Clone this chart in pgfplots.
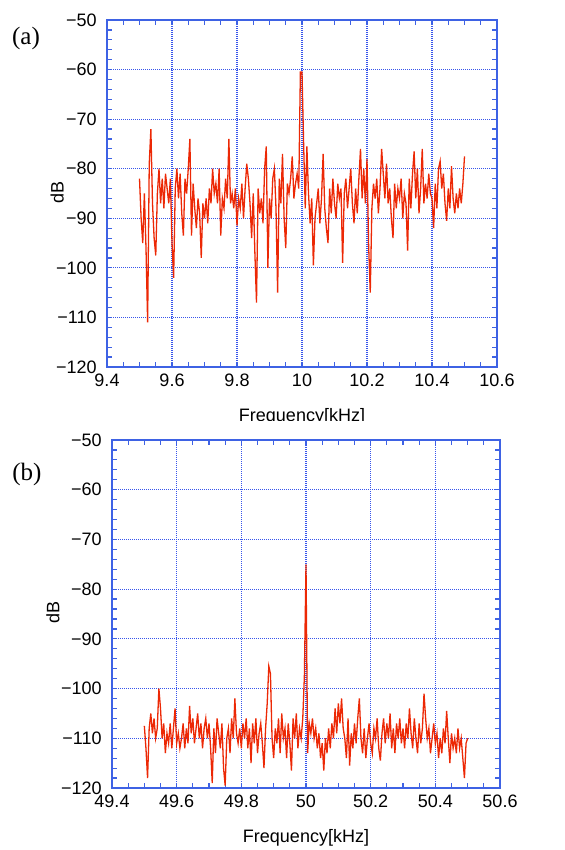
\documentclass[border=0pt]{standalone}
\usepackage{fontspec}
\setmainfont{Liberation Sans}
\newfontfamily\seriffam{Liberation Serif}
\usepackage{pgfplots}
\pgfplotsset{compat=1.18}
\definecolor{axblue}{RGB}{62,98,228}
\definecolor{gridblue}{RGB}{55,85,235}
\definecolor{sigred}{RGB}{236,40,5}
\pgfplotsset{specax/.style={
  scale only axis,
  axis line style={axblue, line width=1pt},
  every tick/.style={axblue, line width=0.6pt},
  major tick length=2.5pt, minor tick length=2.5pt,
  tick align=inside,
  grid=major,
  major grid style={gridblue, line width=0.55pt, dash pattern=on 0.5pt off 0.5pt},
  ymin=-120, ymax=-50,
  ytick={-120,-110,-100,-90,-80,-70,-60,-50},
  yticklabels={−120,−110,−100,−90,−80,−70,−60,−50},
  minor y tick num=4, minor x tick num=3,
  tick label style={font=\fontsize{9}{10}\selectfont, inner sep=0pt},
  yticklabel style={xshift=-5pt},
  xticklabel style={yshift=-3.5pt},
  label style={font=\fontsize{9}{10}\selectfont},
  ylabel={dB},
  xlabel={Frequency[kHz]},
}}
\begin{document}
\begin{tikzpicture}
\useasboundingbox (0,0) rectangle (282.5pt,425pt);
\begin{scope}
\clip (0,214.5pt) rectangle (282.5pt,425pt);
\begin{axis}[specax,
  at={(53.5pt,241.5pt)}, anchor=south west,
  width=195pt, height=173.5pt,
  xmin=9.4, xmax=10.6,
  xtick={9.4,9.6,9.8,10,10.2,10.4,10.6},
  xticklabels={9.4,9.6,9.8,10,10.2,10.4,10.6},
  ylabel style={at={(axis description cs:-0.128,0.504)}, anchor=center, rotate=0},
  xlabel style={at={(axis description cs:0.5,-0.145)}, anchor=center},
]
\addplot[sigred, line width=0.65pt, mark=none] coordinates {
(9.500,-82)(9.505,-90)(9.510,-95)(9.515,-85)(9.520,-96)(9.525,-111)(9.530,-79)(9.535,-72)(9.540,-87)(9.545,-94)
(9.550,-97.5)(9.555,-85)(9.560,-80)(9.565,-87)(9.570,-82)(9.575,-88)(9.580,-81)(9.585,-84)(9.590,-87)(9.595,-82)
(9.600,-95)(9.605,-102)(9.610,-84)(9.615,-80)(9.620,-86)(9.625,-81)(9.630,-89)(9.635,-93.5)(9.640,-82)(9.645,-85)
(9.650,-80)(9.655,-74)(9.660,-93.5)(9.665,-83)(9.670,-88)(9.675,-92)(9.680,-86)(9.685,-89)(9.690,-98)(9.695,-87)
(9.700,-90)(9.705,-86)(9.710,-91)(9.715,-84)(9.720,-87)(9.725,-80)(9.730,-85)(9.735,-83)(9.740,-87)(9.745,-80)
(9.750,-93.5)(9.755,-86)(9.760,-88)(9.765,-82)(9.770,-86)(9.775,-74)(9.780,-87)(9.785,-85)(9.790,-88)(9.795,-84)
(9.800,-91.5)(9.805,-86)(9.810,-88)(9.815,-83)(9.820,-90)(9.825,-84)(9.830,-79)(9.835,-82)(9.840,-87)(9.845,-94)
(9.850,-85)(9.855,-97)(9.860,-107)(9.865,-84)(9.870,-89)(9.875,-86)(9.880,-91)(9.885,-80)(9.890,-75.5)(9.895,-100)
(9.900,-86)(9.905,-90)(9.910,-82)(9.915,-80)(9.920,-88)(9.925,-105)(9.930,-82)(9.935,-87)(9.940,-77)(9.945,-90)
(9.950,-96)(9.955,-83)(9.960,-85)(9.965,-82)(9.970,-77.5)(9.975,-86)(9.980,-83)(9.985,-81)(9.990,-84)(9.995,-60.5)
(10.000,-60.5)(10.005,-75)(10.010,-88)(10.015,-75.5)(10.020,-85)(10.025,-91)(10.030,-86)(10.035,-99.5)(10.040,-90)(10.045,-87)
(10.050,-84)(10.055,-91)(10.060,-86)(10.065,-77)(10.070,-88)(10.075,-92)(10.080,-95)(10.085,-84)(10.090,-89)(10.095,-82)
(10.100,-87)(10.105,-90)(10.110,-83)(10.115,-86)(10.120,-84)(10.125,-99)(10.130,-85)(10.135,-82)(10.140,-88)(10.145,-84)
(10.150,-80)(10.155,-87)(10.160,-91)(10.165,-84)(10.170,-89)(10.175,-82)(10.180,-76)(10.185,-86)(10.190,-80)(10.195,-87)
(10.200,-78)(10.205,-95.5)(10.210,-105)(10.215,-88)(10.220,-83)(10.225,-86)(10.230,-82)(10.235,-89)(10.240,-84)(10.245,-76)
(10.250,-81)(10.255,-86)(10.260,-79)(10.265,-87)(10.270,-84)(10.275,-90)(10.280,-94)(10.285,-83)(10.290,-88)(10.295,-84)
(10.300,-86)(10.305,-82)(10.310,-90)(10.315,-85)(10.320,-87)(10.325,-96.5)(10.330,-82)(10.335,-88)(10.340,-81)(10.345,-76.5)
(10.350,-86)(10.355,-80)(10.360,-89)(10.365,-84)(10.370,-76)(10.375,-87)(10.380,-83)(10.385,-86)(10.390,-81)(10.395,-85)
(10.400,-86)(10.405,-92)(10.410,-83)(10.415,-88)(10.420,-80)(10.425,-78.5)(10.430,-84)(10.435,-81)(10.440,-87)(10.445,-90.5)
(10.450,-84)(10.455,-88)(10.460,-79.5)(10.465,-86)(10.470,-89)(10.475,-85)(10.480,-88)(10.485,-84)(10.490,-87)(10.495,-83)
(10.500,-77.5)
};
\end{axis}
\end{scope}
\begin{axis}[specax,
  at={(56pt,31pt)}, anchor=south west,
  width=194pt, height=174pt,
  xmin=49.4, xmax=50.6,
  xtick={49.4,49.6,49.8,50,50.2,50.4,50.6},
  xticklabels={49.4,49.6,49.8,50,50.2,50.4,50.6},
  ylabel style={at={(axis description cs:-0.152,0.503)}, anchor=center, rotate=0},
  xlabel style={at={(axis description cs:0.5,-0.144)}, anchor=center},
]
\addplot[sigred, line width=0.65pt, mark=none] coordinates {
(49.500,-107.5)(49.505,-112)(49.510,-118)(49.515,-108)(49.520,-105)(49.525,-109)(49.530,-106)(49.535,-110)(49.540,-108)(49.545,-100)
(49.550,-104)(49.555,-110)(49.560,-107)(49.565,-113)(49.570,-109)(49.575,-111)(49.580,-107)(49.585,-112)(49.590,-108)(49.595,-104)
(49.600,-111)(49.605,-109)(49.610,-112)(49.615,-110)(49.620,-107)(49.625,-112)(49.630,-108)(49.635,-111)(49.640,-103.5)(49.645,-109)
(49.650,-106)(49.655,-111)(49.660,-108)(49.665,-105)(49.670,-110)(49.675,-107)(49.680,-112)(49.685,-108)(49.690,-106)(49.695,-110)
(49.700,-107)(49.705,-112)(49.710,-119)(49.715,-108)(49.720,-113)(49.725,-106)(49.730,-109)(49.735,-112)(49.740,-107)(49.745,-116)
(49.750,-119.5)(49.755,-110)(49.760,-108)(49.765,-113)(49.770,-106)(49.775,-110)(49.780,-102)(49.785,-109)(49.790,-111)(49.795,-108)
(49.800,-112)(49.805,-107)(49.810,-110)(49.815,-106)(49.820,-112)(49.825,-108)(49.830,-115)(49.835,-107)(49.840,-111)(49.845,-106)
(49.850,-113)(49.855,-109)(49.860,-107)(49.865,-111)(49.870,-116)(49.875,-108)(49.880,-103)(49.885,-95.5)(49.890,-97)(49.895,-110)
(49.900,-114)(49.905,-108)(49.910,-111)(49.915,-106)(49.920,-113)(49.925,-105)(49.930,-110)(49.935,-108)(49.940,-114)(49.945,-107)
(49.950,-111)(49.955,-116.5)(49.960,-106)(49.965,-110)(49.970,-105)(49.975,-112)(49.980,-108)(49.985,-110)(49.990,-106)(49.995,-97.5)
(50.000,-75)(50.005,-113)(50.010,-107)(50.015,-109)(50.020,-106)(50.025,-110)(50.030,-108)(50.035,-112)(50.040,-109)(50.045,-114)
(50.050,-111)(50.055,-116.5)(50.060,-110)(50.065,-113)(50.070,-108)(50.075,-112)(50.080,-107)(50.085,-110)(50.090,-104)(50.095,-109)
(50.100,-103)(50.105,-107)(50.110,-102)(50.115,-108)(50.120,-110)(50.125,-114)(50.130,-106)(50.135,-115.5)(50.140,-109)(50.145,-112)
(50.150,-107)(50.155,-111)(50.160,-106)(50.165,-102)(50.170,-110)(50.175,-113)(50.180,-108)(50.185,-114)(50.190,-110)(50.195,-107)
(50.200,-111)(50.205,-113)(50.210,-108)(50.215,-110)(50.220,-106)(50.225,-112)(50.230,-114.5)(50.235,-109)(50.240,-106)(50.245,-111)
(50.250,-107)(50.255,-110)(50.260,-105)(50.265,-112)(50.270,-108)(50.275,-113)(50.280,-107)(50.285,-110)(50.290,-106)(50.295,-111)
(50.300,-108)(50.305,-112)(50.310,-107)(50.315,-110)(50.320,-104)(50.325,-109)(50.330,-112)(50.335,-106)(50.340,-110)(50.345,-113)
(50.350,-107)(50.355,-111)(50.360,-108)(50.365,-101)(50.370,-106)(50.375,-110)(50.380,-108)(50.385,-113)(50.390,-110)(50.395,-107)
(50.400,-111)(50.405,-109)(50.410,-114)(50.415,-110)(50.420,-113)(50.425,-108)(50.430,-111)(50.435,-104.5)(50.440,-110)(50.445,-115)
(50.450,-109)(50.455,-112)(50.460,-110)(50.465,-113)(50.470,-108)(50.475,-112)(50.480,-110)(50.485,-114)(50.490,-118)(50.495,-111)
(50.500,-110)
};
\end{axis}
\node[font=\seriffam\fontsize{12.5}{14}\selectfont, anchor=center] at (13pt,405.5pt) {(a)};
\node[font=\seriffam\fontsize{12.5}{14}\selectfont, anchor=center] at (13.5pt,188pt) {(b)};
\end{tikzpicture}
\end{document}
